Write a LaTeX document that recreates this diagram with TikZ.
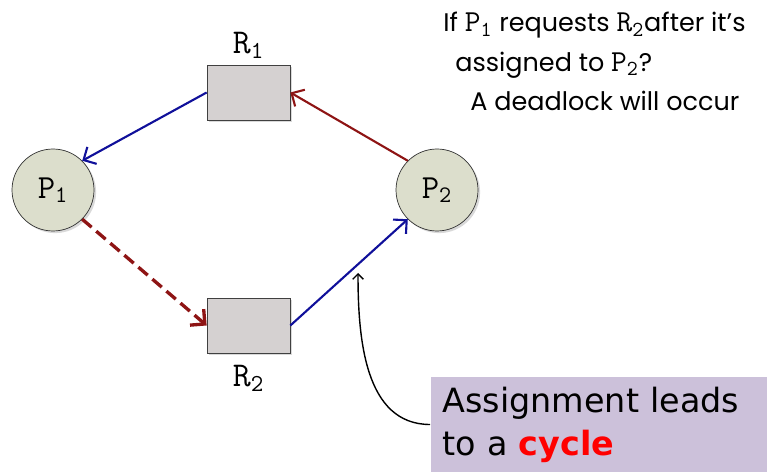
\documentclass[tikz,border=0pt]{standalone}
\usepackage{fontspec}
\setmainfont{Poppins}
\setmonofont[Scale=1.2]{Latin Modern Mono}
\newfontfamily\notefont{DejaVu Sans}
\usetikzlibrary{positioning,arrows.meta,shadows}

\definecolor{procfill}{HTML}{DCDECC}
\definecolor{resfill}{HTML}{D5D1D1}
\definecolor{holdblue}{HTML}{10109A}
\definecolor{wantred}{HTML}{8E1414}
\definecolor{notefill}{HTML}{CCC1DA}

% typewriter name with typewriter index, e.g. P_1
\newcommand{\tsub}[2]{\texttt{#1}\textsubscript{\texttt{#2}}}

\tikzset{
  proc/.style={circle, draw=black!80, fill=procfill, minimum size=1.64cm,
    inner sep=0pt, font=\fontsize{16}{16}\selectfont,
    drop shadow={opacity=0.3, shadow xshift=1.2pt, shadow yshift=-1.2pt}},
  res/.style={rectangle, draw=black!75, fill=resfill, minimum width=1.66cm,
    minimum height=1.1cm,
    drop shadow={opacity=0.3, shadow xshift=1.2pt, shadow yshift=-1.2pt}},
  reslabel/.style={font=\fontsize{16.5}{16.5}\selectfont, inner sep=1pt},
  held/.style={draw=holdblue, line width=1.2pt,
    -{Straight Barb[length=5.5pt,width=11pt]}},
  wants/.style={draw=wantred, line width=1.2pt,
    -{Straight Barb[length=5.5pt,width=11pt]}},
  notebox/.style={fill=notefill, minimum width=6.68cm, minimum height=1.9cm,
    text width=6.3cm, align=left, inner xsep=0.24cm,
    font=\notefont\fontsize{19}{24.5}\selectfont}
}

\begin{document}
\begin{tikzpicture}
  \useasboundingbox (0,0) rectangle (15.34,9.44);

  % processes and resources
  \node[proc] (p1) at (1.06,5.64) {\tsub{P}{1}};
  \node[proc] (p2) at (8.74,5.64) {\tsub{P}{2}};
  \node[res] (r1) at (4.97,7.59) {};
  \node[res] (r2) at (4.97,2.93) {};
  \node[reslabel, above=0.08cm of r1] (r1l) {\tsub{R}{1}};
  \node[reslabel, below=0.2cm of r2] (r2l) {\tsub{R}{2}};

  % assignment and request edges
  \draw[held] (r1.west) -- (p1.north east);
  \draw[wants] (p2.north west) -- (r1.east);
  \draw[wants, dashed, line width=1.9pt, dash pattern=on 7pt off 3.5pt,
        -{Straight Barb[length=6pt,width=12pt]}]
    (p1.south east) -- (r2.west);
  \draw[held] (r2.east) -- (p2.south west);

  % the question in the corner
  \node[anchor=north west, align=left, inner sep=0pt,
        font=\fontsize{14.5}{22.5}\selectfont] (question) at (8.86,9.2)
    {If \tsub{P}{1} requests \tsub{R}{2}after it’s\\
     \hspace{0.24cm}assigned to \tsub{P}{2}?\\
     \hspace{0.54cm}A deadlock will occur};

  % note pointing at the assignment edge
  \node[notebox] (note) at (12.0,0.95)
    {Assignment leads\\ to a \textcolor{red}{\bfseries cycle}};
  \coordinate (tip) at (7.16,3.98);
  \draw[line width=0.8pt, -{Straight Barb[length=3pt,width=6pt]}]
    (note.west) to[out=180, in=-90] (tip);
\end{tikzpicture}
\end{document}
